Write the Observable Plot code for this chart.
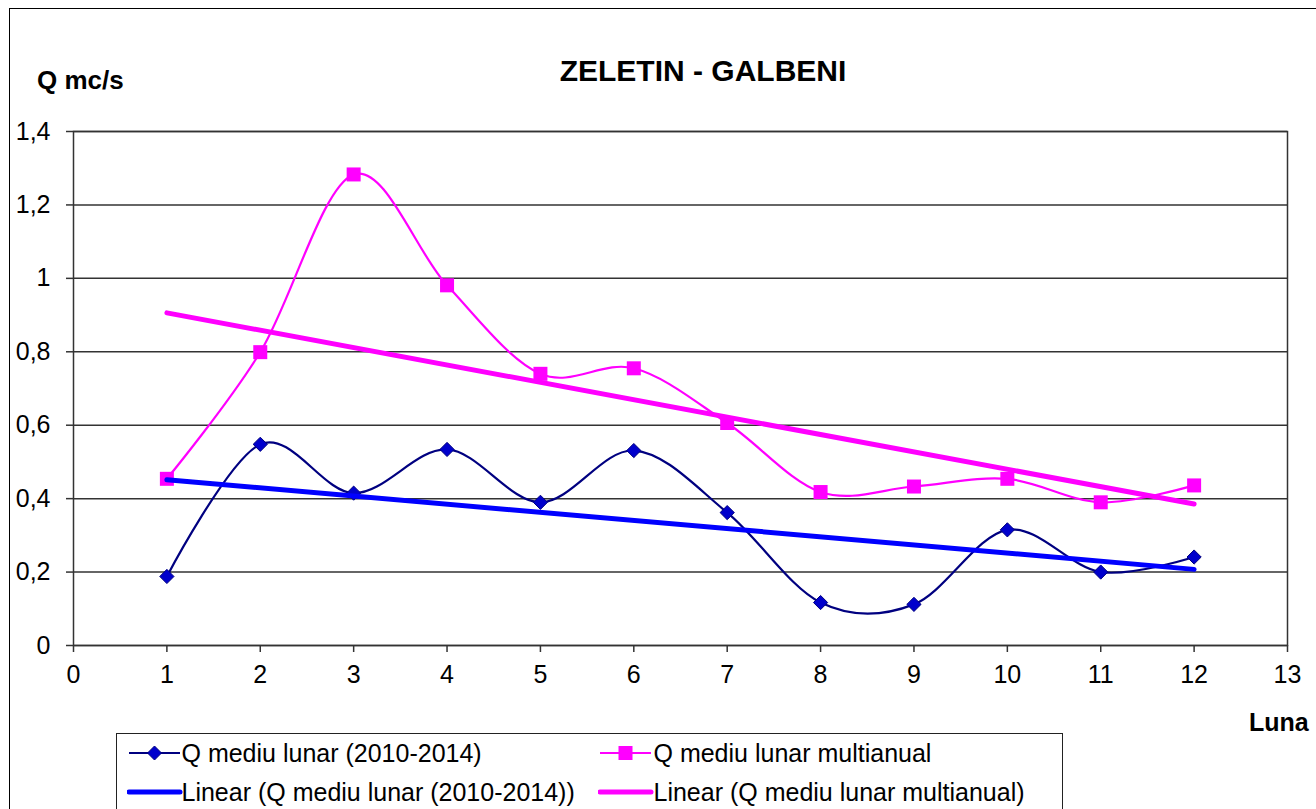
<!DOCTYPE html>
<html>
<head>
<meta charset="utf-8">
<script src="https://cdn.jsdelivr.net/npm/d3@7"></script>
<script src="https://cdn.jsdelivr.net/npm/@observablehq/plot@0.6"></script>
<style>
  html, body { margin: 0; padding: 0; background: #fff; overflow: hidden; }
  #wrap { position: relative; width: 1316px; height: 809px; overflow: hidden; font-family: "Liberation Sans", Arial, sans-serif; color: #000; }
  #outer { position: absolute; left: 9px; top: 8px; width: 1400px; height: 900px; border: 1.5px solid #000; box-sizing: border-box; }
  #title { position: absolute; left: 0; width: 1406px; top: 53px; text-align: center; font-weight: bold; font-size: 30px; line-height: 36px; }
  #ylab { position: absolute; left: 37px; top: 64px; font-weight: bold; font-size: 26px; line-height: 32px; }
  #xlab { position: absolute; left: 1249px; top: 706px; font-weight: bold; font-size: 25px; line-height: 32px; }
  #chart { position: absolute; left: 0; top: 100px; }
  #legend { position: absolute; left: 116px; top: 733px; width: 947px; height: 120px; border: 1.5px solid #222; box-sizing: border-box; background: #fff; }
  .lg { position: absolute; font-size: 25px; line-height: 30px; white-space: nowrap; }
  .sym { position: absolute; }
</style>
</head>
<body>
<div id="wrap">
  <div id="outer"></div>
  <div id="title"></div>
  <div id="ylab"></div>
  <div id="chart"></div>
  <div id="xlab"></div>
  <div id="legend"></div>
</div>
<script>
// ---- data ----
const chartTitle = "ZELETIN - GALBENI";
const yAxisTitle = "Q mc/s";
const xAxisTitle = "Luna";
const months = [1, 2, 3, 4, 5, 6, 7, 8, 9, 10, 11, 12];
const qLunar20102014 = [0.188, 0.548, 0.415, 0.534, 0.39, 0.531, 0.362, 0.117, 0.112, 0.315, 0.2, 0.241];
const qMultianual = [0.454, 0.799, 1.283, 0.981, 0.74, 0.755, 0.606, 0.418, 0.433, 0.454, 0.39, 0.436];
const xTicks = [0, 1, 2, 3, 4, 5, 6, 7, 8, 9, 10, 11, 12, 13];
const yTicks = [0, 0.2, 0.4, 0.6, 0.8, 1, 1.2, 1.4];
const yTickLabels = ["0", "0,2", "0,4", "0,6", "0,8", "1", "1,2", "1,4"];
const seriesNames = ["Q mediu lunar (2010-2014)", "Q mediu lunar multianual"];
const trendNames = ["Linear (Q mediu lunar (2010-2014))", "Linear (Q mediu lunar multianual)"];

// ---- colours ----
const navy = "#000080", blueFill = "#0000CC", blueTrend = "#0000FF", magenta = "#FF00FF";

const blueRows = months.map((m, i) => ({month: m, q: qLunar20102014[i]}));
const pinkRows = months.map((m, i) => ({month: m, q: qMultianual[i]}));

document.getElementById("title").textContent = chartTitle;
document.getElementById("ylab").textContent = yAxisTitle;
document.getElementById("xlab").textContent = xAxisTitle;

const plot = Plot.plot({
  width: 1316,
  height: 600,
  marginLeft: 73,
  marginRight: 29,
  marginTop: 31,
  marginBottom: 55,
  style: {fontFamily: "'Liberation Sans', Arial, sans-serif", fontSize: "25px", color: "#000", background: "transparent", overflow: "visible"},
  x: {domain: [0, 13]},
  y: {domain: [0, 1.4]},
  marks: [
    Plot.ruleY(yTicks, {stroke: "#333", strokeWidth: 1.5}),
    Plot.frame({stroke: "#333", strokeWidth: 1.5}),
    Plot.axisX({ticks: xTicks, tickSize: 7, tickPadding: 13, label: null, stroke: "#333", strokeWidth: 1.5, tickFormat: d => String(d)}),
    Plot.axisY({ticks: yTicks, tickSize: 7, tickPadding: 16, label: null, stroke: "#333", strokeWidth: 1.5,
      tickFormat: d => yTickLabels[yTicks.indexOf(d)]}),
    Plot.lineY(pinkRows, {x: "month", y: "q", stroke: magenta, strokeWidth: 2.2, curve: "cardinal"}),
    Plot.lineY(blueRows, {x: "month", y: "q", stroke: navy, strokeWidth: 2.2, curve: "cardinal"}),
    Plot.dot(pinkRows, {x: "month", y: "q", symbol: "square", r: 7.9, fill: magenta, stroke: "none"}),
    Plot.dot(blueRows, {x: "month", y: "q", symbol: "diamond2", r: 6.4, fill: blueFill, stroke: navy, strokeWidth: 1}),
    Plot.linearRegressionY(blueRows, {x: "month", y: "q", stroke: blueTrend, strokeWidth: 5, ci: 0}),
    Plot.linearRegressionY(pinkRows, {x: "month", y: "q", stroke: magenta, strokeWidth: 5, ci: 0})
  ]
});
document.getElementById("chart").appendChild(plot);

// ---- legend ----
const legend = document.getElementById("legend");
const L = 116, T = 733;
function symSvg(kind, color, fill, x, yc, thick) {
  const ns = "http://www.w3.org/2000/svg";
  const s = document.createElementNS(ns, "svg");
  s.setAttribute("class", "sym");
  s.setAttribute("width", 56); s.setAttribute("height", 20);
  s.style.left = (x - L - 1.5) + "px";
  s.style.top = (yc - T - 1.5 - 10) + "px";
  const ln = document.createElementNS(ns, "line");
  ln.setAttribute("x1", 2); ln.setAttribute("x2", 53); ln.setAttribute("y1", 10); ln.setAttribute("y2", 10);
  ln.setAttribute("stroke", color); ln.setAttribute("stroke-width", thick ? 5 : 2.2);
  ln.setAttribute("stroke-linecap", thick ? "round" : "butt");
  s.appendChild(ln);
  if (kind === "diamond") {
    const p = document.createElementNS(ns, "path");
    p.setAttribute("d", "M27.5,3L34.5,10L27.5,17L20.5,10Z");
    p.setAttribute("fill", fill); p.setAttribute("stroke", color);
    s.appendChild(p);
  } else if (kind === "square") {
    const r = document.createElementNS(ns, "rect");
    r.setAttribute("x", 20.5); r.setAttribute("y", 3); r.setAttribute("width", 14); r.setAttribute("height", 14);
    r.setAttribute("fill", fill);
    s.appendChild(r);
  }
  legend.appendChild(s);
}
function lgText(txt, x, yc) {
  const d = document.createElement("div");
  d.className = "lg";
  d.textContent = txt;
  d.style.left = (x - L - 1.5) + "px";
  d.style.top = (yc - T - 1.5 - 15) + "px";
  legend.appendChild(d);
}
symSvg("diamond", navy, blueFill, 127, 753, false);
lgText(seriesNames[0], 182, 753);
symSvg("square", magenta, magenta, 598, 753, false);
lgText(seriesNames[1], 654, 753);
symSvg("none", blueTrend, null, 127, 792, true);
lgText(trendNames[0], 182, 792);
symSvg("none", magenta, null, 598, 792, true);
lgText(trendNames[1], 654, 792);
</script>
</body>
</html>
